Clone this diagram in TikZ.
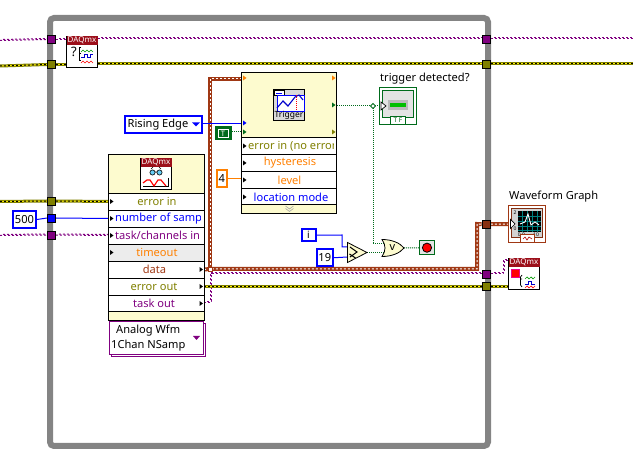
\documentclass[tikz,border=0pt]{standalone}
\usepackage{fontspec}
\setmainfont{Noto Sans}
\usetikzlibrary{calc}
\pgfdeclarelayer{frame}
\pgfdeclarelayer{wires}
\pgfsetlayers{frame,wires,main}
\definecolor{lvPurple}{HTML}{800080}
\definecolor{lvOlive}{HTML}{808000}
\definecolor{lvBlue}{HTML}{0000FF}
\definecolor{lvOrange}{HTML}{FF8000}
\definecolor{lvBrown}{HTML}{A03814}
\definecolor{lvGreen}{HTML}{006B1B}
\definecolor{lvCream}{HTML}{FDFBCF}
\definecolor{lvGray}{HTML}{E4E4E4}
\definecolor{lvFrame}{HTML}{848484}
\definecolor{lvRed}{HTML}{9C0F1A}
\tikzset{
  x=1pt,y=-1pt,
  lbl/.style={font=\fontsize{11.1}{13}\selectfont,inner sep=0pt,text=#1},
  lbl/.default=black,
  wblue/.style={draw=lvBlue,line width=1pt},
  wgreen/.style={draw=lvGreen,line width=1pt,dash pattern=on 1pt off 1pt},
  wpurple/.style={draw=lvPurple,line width=1pt,dash pattern=on 2pt off 2pt,
    postaction={draw=lvPurple,line width=1pt,dash pattern=on 2pt off 2pt,dash phase=2pt,transform canvas={shift={(1pt,1pt)}}}},
  werror/.style={draw=lvOlive,line width=3pt,
    postaction={draw=yellow,line width=1pt},
    postaction={draw=black,line width=1pt,dash pattern=on 2pt off 2pt}},
  wwave/.style={draw=lvBrown,line width=4pt,
    postaction={draw=white,line width=1pt,dash pattern=on 2pt off 2pt}},
  tunnel/.style={draw=black,line width=.8pt,fill=#1,minimum width=8pt,minimum height=8pt,inner sep=0pt},
  const/.style={draw=#1,line width=2pt,fill=white,inner sep=0pt,font=\fontsize{11.1}{13}\selectfont},
  panel/.style={draw=black,line width=1pt,fill=#1,inner sep=0pt},
  row/.style={draw=black,line width=1pt,fill=#1,inner sep=0pt},
  row/.default=white,
  icon/.style={draw=black,line width=1pt,fill=white,inner sep=0pt},
}
% box given by its corners, with a style list and a text
\newcommand{\lvbox}[7]{%
  \node[#6,minimum width={(#4-#2)*1pt},minimum height={(#5-#3)*1pt}] (#1) at ({(#2+#4)/2},{(#3+#5)/2}) {#7};}
% terminal arrow pointing right
\newcommand{\lvarrow}[3][black]{\fill[#1] (#2,#3-2.5) -- (#2+3.5,#3) -- (#2,#3+2.5) -- cycle;}
% red DAQmx title bar of an icon whose top left corner is given
\newcommand{\daqbar}[2]{%
  \fill[lvRed] (#1+.5,#2+.5) rectangle (#1+31.5,#2+9);
  \node[inner sep=0pt,text=white,font=\bfseries\fontsize{8}{8}\selectfont] at (#1+16,#2+4.7) {DAQmx};}
\begin{document}
\begin{tikzpicture}
\useasboundingbox (0,0) rectangle (633,454);

% while loop border
\begin{pgfonlayer}{frame}
  \draw[lvFrame,line width=6pt,rounded corners=4pt] (50,18) rectangle (488,446);
\end{pgfonlayer}

% tunnels on the loop border
\lvbox{tPa}{47.5}{35.5}{55.5}{43.5}{tunnel=lvPurple}{}
\lvbox{tEa}{47.5}{60.5}{55.5}{68.5}{tunnel=lvOlive}{}
\lvbox{tPb}{482}{35}{490.5}{43}{tunnel=lvPurple}{}
\lvbox{tEb}{482}{60}{490.5}{68}{tunnel=lvOlive}{}
\lvbox{tEc}{47.5}{197}{55.5}{205}{tunnel=lvOlive}{}
\lvbox{tN}{47.5}{214}{55.5}{222}{tunnel=lvBlue}{}
\lvbox{tPc}{47.5}{231}{55.5}{239}{tunnel=lvPurple}{}
\lvbox{tW}{482}{220}{490.5}{228.5}{tunnel=lvBrown!85!black}{}
\lvbox{tPd}{482}{270}{490.5}{278}{tunnel=lvPurple}{}
\lvbox{tEd}{482}{282.5}{490.5}{290.5}{tunnel=lvOlive}{}

% timing-info icon at the top of the loop
\lvbox{info}{66.5}{36.5}{97.5}{67.5}{icon}{}
\daqbar{66}{36}
\node[inner sep=0pt,font=\bfseries\fontsize{13}{13}\selectfont] at (74,52) {?};
\draw[black,line width=.7pt] (81,53) -- (79,53) (81,47) -- (79.5,47) -- (79.5,60) -- (81,60);
\draw[green!60!black,line width=.7pt] (81,52) -- (83,50) -- (85,52) -- (87,50) -- (89,52) -- (91,50) -- (93,52);
\draw[blue!80!black,line width=.8pt] (81,57) -- (84,57) -- (84,54) -- (87,54) -- (87,57) -- (90,57) -- (90,54) -- (93,54);
\draw[red,line width=.7pt] (81,63) -- (83,61) -- (85,63) -- (87,61) -- (89,63) -- (91,61) -- (93,63);

% analog read express node
\lvbox{reader}{108}{155}{204}{194}{panel=lvCream}{}
\lvbox{readericon}{140.5}{158.5}{171.5}{189.5}{icon}{}
\daqbar{140}{158}
\draw[black,line width=.6pt,fill=cyan!60] (152.5,172.5) circle (2.6) (159.5,172.5) circle (2.6);
\draw[black,line width=.7pt] (155,172) -- (157,172) (151,169) -- (153,167) (161,169) -- (159,167);
\draw[black,line width=.7pt] (143,186) -- (169,186) (168,178) -- (168,186);
\draw[red,line width=1.2pt] (143,183) -- (147,180) -- (150,180) -- (154,186) -- (158,180) -- (161,180) -- (166,186);
\lvbox{rErr}{108}{193.5}{204}{210.5}{row}{}
\lvbox{rNum}{108}{210.5}{204}{227.5}{row}{}
\lvbox{rTask}{108}{227.5}{204}{244.5}{row}{}
\lvbox{rTime}{108}{244.5}{204}{261.5}{row=lvGray!70}{}
\lvbox{rData}{108}{261.5}{204}{278.5}{row}{}
\lvbox{rEout}{108}{278.5}{204}{295.5}{row}{}
\lvbox{rTout}{108}{295.5}{204}{311.5}{row}{}
\lvbox{rFoot}{108}{311.5}{204}{320.5}{row=lvCream}{}
\node[lbl=lvOlive] (rErrT) at (157,201.5) {error in};
\begin{scope}\clip (114,211) rectangle (200.5,227);
  \node[lbl=lvBlue,anchor=west] (rNumT) at (115,218.5) {number of samp};
\end{scope}
\node[lbl=lvPurple,anchor=west] (rTaskT) at (115,235.5) {task/channels in};
\node[lbl=lvOrange] (rTimeT) at (157,252.5) {timeout};
\node[lbl=lvBrown] (rDataT) at (154.5,269.5) {data};
\node[lbl=lvOlive] (rEoutT) at (154,286.5) {error out};
\node[lbl=lvPurple] (rToutT) at (154,303.5) {task out};
\foreach \yy in {201.5,218.5,235.5,252.5} {\lvarrow{110}{\yy}}
\foreach \yy in {269.5,286.5,303.5} {\lvarrow{199.5}{\yy}}
\coordinate (inErr) at (108,201.5);
\coordinate (inNum) at (108,218.5);
\coordinate (inTask) at (108,235.5);
\coordinate (outData) at (204,269.5);
\coordinate (outErr) at (204,286.5);
\coordinate (outTask) at (204,302.5);

% polymorphic selector below the read node
\lvbox{selShadow}{111}{324}{205}{356.5}{draw=lvPurple,line width=1pt,fill=white,inner sep=0pt}{}
\lvbox{sel}{109.5}{322}{203}{354.5}{draw=lvPurple,line width=1pt,fill=white,inner sep=0pt}{}
\node[lbl,anchor=west] (selA) at (116,331) {Analog Wfm};
\node[lbl,anchor=west] (selB) at (111,346) {1Chan NSamp};
\fill[lvPurple] (193,336) -- (200,336) -- (196.5,340) -- cycle;

% trigger express node
\lvbox{trigger}{241.5}{72.5}{336.5}{137.5}{panel=lvCream}{}
\lvbox{trigIcon}{273.5}{89.5}{304.5}{120.5}{draw=black,line width=1pt,fill=gray!30,inner sep=0pt}{}
\draw[black,fill=white,line width=.6pt] (274,90) rectangle (284,95);
\draw[blue,line width=.7pt] (276,93) -- (282,93);
\draw[blue,fill=white,line width=.8pt] (277,95) rectangle (304,111);
\draw[blue!80!black,line width=1.1pt] (277,108) -- (283,101) -- (288,106) -- (295,97) -- (299,95) -- (303,100);
\draw[red,line width=1pt,dash pattern=on 1pt off 1pt] (296,95) -- (296,111);
\node[inner sep=0pt,font=\fontsize{8.5}{8.5}\selectfont] (trigWord) at (289,115.5) {Trigger};
\lvbox{tErr}{241.5}{137.5}{336.5}{154.5}{row}{}
\lvbox{tHyst}{241.5}{154.5}{336.5}{171.5}{row}{}
\lvbox{tLev}{241.5}{171.5}{336.5}{188.5}{row}{}
\lvbox{tLoc}{241.5}{188.5}{336.5}{204.5}{row}{}
\lvbox{tFoot}{241.5}{204.5}{336.5}{213.5}{row=lvCream}{}
\begin{scope}\clip (247,138) rectangle (333,154);
  \node[lbl=lvOlive,anchor=west] (tErrT) at (248,146) {error in (no error};
\end{scope}
\node[lbl=lvOrange] (tHystT) at (290,163) {hysteresis};
\node[lbl=lvOrange] (tLevT) at (289.5,180) {level};
\node[lbl=lvBlue] (tLocT) at (291,197) {location mode};
\foreach \yy in {146,163,180,197} {\lvarrow{243}{\yy}}
\draw[gray!70,line width=.6pt] (285.5,206) -- (289.5,209) -- (293.5,206) (285.5,208.5) -- (289.5,211.5) -- (293.5,208.5);
\lvarrow[lvOrange]{243}{78}
\lvarrow[lvBlue]{243}{123}
\lvarrow[lvGreen]{243}{132}
\lvarrow[lvOrange]{332}{78}
\lvarrow[lvGreen]{332}{105}
\lvarrow[lvOlive]{332}{132}
\coordinate (inSig) at (241,79);
\coordinate (inSlope) at (241,123.5);
\coordinate (inBool) at (241,132);
\coordinate (inLevel) at (241,179);
\coordinate (outDet) at (337,106);

% constants
\lvbox{cEdge}{125}{116.5}{201.5}{133.5}{const=lvBlue}{}
\node[lbl,anchor=west] (cEdgeT) at (127.5,124.5) {Rising Edge};
\fill[lvBlue] (192,122.5) -- (200,122.5) -- (196,126.5) -- cycle;
\lvbox{cT}{215}{127}{231}{140}{fill=lvGreen,draw=lvGreen,line width=1pt,inner sep=0pt}{}
\lvbox{cTin}{218}{129.5}{228}{137.5}{draw=white,line width=.7pt,inner sep=0pt,text=white,font=\bfseries\fontsize{7.5}{7.5}\selectfont}{T}
\lvbox{cFour}{216.5}{170}{227}{187}{const=lvOrange}{4}
\lvbox{cFive}{13}{211}{36}{228}{const=lvBlue}{500}
\lvbox{cI}{301.5}{229}{315.5}{241.5}{const=lvBlue,font=\bfseries\fontsize{10}{10}\selectfont}{i}
\lvbox{cNine}{316.5}{249.5}{333}{266}{const=lvBlue}{19}

% boolean indicator
\node[lbl,anchor=west] (detLabel) at (380,79) {trigger detected?};
\lvbox{ind}{379.5}{87.5}{416.5}{124.5}{draw=lvGreen,line width=1pt,fill=white,inner sep=0pt}{}
\lvbox{indIn}{382.5}{90.5}{413.5}{117.5}{draw=lvGreen,line width=1pt,fill=gray!22,inner sep=0pt}{}
\fill[gray!55] (388,100) rectangle (408,110);
\fill[green!75!black] (390,103) rectangle (406,107.5);
\lvbox{indTF}{390.5}{116.5}{405.5}{124.5}{draw=lvGreen,line width=1pt,fill=white,inner sep=0pt,text=lvGreen,font=\bfseries\fontsize{6.5}{6.5}\selectfont}{T F}
\draw[black,fill=white,line width=.7pt] (381,102) -- (386,106) -- (381,110) -- cycle;
\coordinate (inInd) at (381,106);

% comparison, or gate and stop terminal
\draw[black,fill=lvCream,line width=.8pt] (347.5,242.5) -- (367,252.5) -- (347.5,262.5) -- cycle;
\draw[black,line width=1pt] (350,247) -- (357,252) -- (350,257) (349.5,254) -- (355.5,258);
\coordinate (cmpA) at (347.5,247);
\coordinate (cmpB) at (347.5,257);
\coordinate (cmpOut) at (367,252.5);
\draw[black,fill=lvCream,line width=.8pt] (382,239.5) .. controls (392,239.5) and (400,243) .. (404,248) .. controls (400,253) and (392,256.5) .. (382,256.5) .. controls (386,251) and (386,245) .. (382,239.5) -- cycle;
\node[inner sep=0pt,font=\bfseries\fontsize{11}{11}\selectfont] (orMark) at (392.5,247.5) {v};
\coordinate (orA) at (384,244);
\coordinate (orB) at (385,252.5);
\coordinate (orOut) at (404,248);
\lvbox{stop}{419.5}{240.5}{434.5}{255}{draw=lvGreen,line width=1pt,fill=gray!20,inner sep=0pt}{}
\draw[black,fill=red,line width=.8pt] (427,247.7) circle (4.6);

% waveform graph terminal
\node[lbl,anchor=west] (graphLabel) at (509,197) {Waveform Graph};
\lvbox{graph}{508.5}{205.5}{545.5}{242.5}{draw=lvBrown,line width=1pt,fill=white,inner sep=0pt}{}
\lvbox{graphIn}{511.5}{208.5}{542.5}{237.5}{draw=lvBrown!80!black,line width=1pt,fill=gray!35,inner sep=0pt}{}
\fill[black] (518,211) rectangle (541,232);
\foreach \xx in {522,527,532,537} {\draw[teal,line width=.5pt] (\xx,211) -- (\xx,232);}
\foreach \yy in {216,221,226,230} {\draw[teal,line width=.5pt] (518,\yy) -- (541,\yy);}
\draw[white,line width=.9pt] (520,224) -- (525,222) -- (528,214) -- (531,225) -- (535,222) -- (539,225);
\node[inner sep=0pt,font=\bfseries\fontsize{5}{5}\selectfont] at (515,212.5) {2};
\node[inner sep=0pt,font=\bfseries\fontsize{5}{5}\selectfont] at (515,229) {0};
\node[inner sep=0pt,font=\bfseries\fontsize{5}{5}\selectfont] at (521.5,235) {0.0};
\node[inner sep=0pt,font=\bfseries\fontsize{5}{5}\selectfont] at (536,235) {10};
\lvbox{graphTag}{520.5}{234.5}{534.5}{242.5}{draw=lvBrown,line width=1pt,fill=white,inner sep=0pt}{}
\draw[red!70!black,line width=.6pt] (523,239) -- (525,237) -- (527,240) -- (529,237) -- (532,239);
\draw[black,fill=white,line width=.7pt] (510.5,219.5) -- (515,224) -- (510.5,228.5) -- cycle;
\coordinate (inGraph) at (510.5,224);

% clear-task icon
\lvbox{clear}{508.5}{258.5}{539.5}{289.5}{icon}{}
\daqbar{508}{258}
\draw[magenta,fill=red,line width=.6pt] (511.5,269) rectangle (519.5,277.5);
\draw[black,line width=.7pt] (522,279) -- (520.5,279) (522,275) -- (520.5,277) -- (520.5,285) -- (522,287);
\draw[green!60!black,line width=.7pt] (525,279) -- (527,277) -- (529,279) -- (531,277) -- (533,279) -- (535,277);
\draw[blue!80!black,line width=.8pt] (525,284) -- (528,284) -- (528,281) -- (531,281) -- (531,284) -- (535,284);
\draw[red,line width=.7pt] (525,288) -- (527,286) -- (529,288) -- (531,286) -- (533,288) -- (535,286);

% wiring
\coordinate (edgeP) at (0,40.5);
\coordinate (edgeE) at (0,66);
\coordinate (edgePr) at (633,39);
\coordinate (edgeEr) at (633,64);
\coordinate (edgeEc) at (0,201.5);
\coordinate (edgePc) at (0,235.5);
\coordinate (dataJoin) at (210,269);
\begin{pgfonlayer}{wires}
  \draw[wpurple] (edgeP) -- (tPa.west);
  \draw[wpurple] (tPa.east) -- (info.west |- tPa.east);
  \draw[wpurple] (info.east |- tPb.west) -- (tPb.west);
  \draw[wpurple] (tPb.east) -- (edgePr);
  \draw[werror] (edgeE) -- (tEa.west);
  \draw[werror] (tEa.east) -- (info.west |- tEa.east);
  \draw[werror] (info.east |- tEb.west) -- (tEb.west);
  \draw[werror] (tEb.east) -- (edgeEr);
  \draw[werror] (edgeEc) -- (tEc.west);
  \draw[werror] (tEc.east) -- (inErr);
  \draw[wblue] (cFive.east) -- (tN.west);
  \draw[wblue] (tN.east) -- (inNum);
  \draw[wpurple] (edgePc) -- (tPc.west);
  \draw[wpurple] (tPc.east) -- (inTask);
  \draw[wwave] (dataJoin) -- (210,79) -- (inSig);
  \draw[wwave] (outData) -- (dataJoin) -- (477,269) -- (477,224) -- (tW.west);
  \draw[wwave] (tW.east) -- (inGraph);
  \draw[wpurple] (outTask) -- (210,302.5) -- (210,274) -- (tPd.west);
  \draw[wpurple] (tPd.east) -- (503,274) -- (503,261) -- (clear.west |- 0,261);
  \draw[werror] (outErr) -- (tEd.west);
  \draw[werror] (tEd.east) -- (clear.west |- tEd.east);
  \draw[wblue] (cEdge.east |- inSlope) -- (inSlope);
  \draw[wgreen] (cT.east |- inBool) -- (inBool);
  \draw[draw=lvOrange,line width=1pt] (cFour.east |- inLevel) -- (inLevel);
  \draw[wgreen] (outDet) -- (inInd);
  \draw[wgreen] (373,106) -- (373,244) -- (orA);
  \draw[wblue] (cI.east) -- (342,235) -- (342,247) -- (cmpA);
  \draw[wblue] (cNine.east) -- (cmpB);
  \draw[wgreen] (cmpOut) -- (orB);
  \draw[wgreen] (orOut) -- (stop.west);
\end{pgfonlayer}
% wire junctions
\draw[lvGreen,fill=white,line width=.8pt] (373,103.5) -- (375.5,106) -- (373,108.5) -- (370.5,106) -- cycle;
\draw[lvBrown,fill=white,line width=.8pt] (208,267) rectangle (212,271);
\end{tikzpicture}
\end{document}
